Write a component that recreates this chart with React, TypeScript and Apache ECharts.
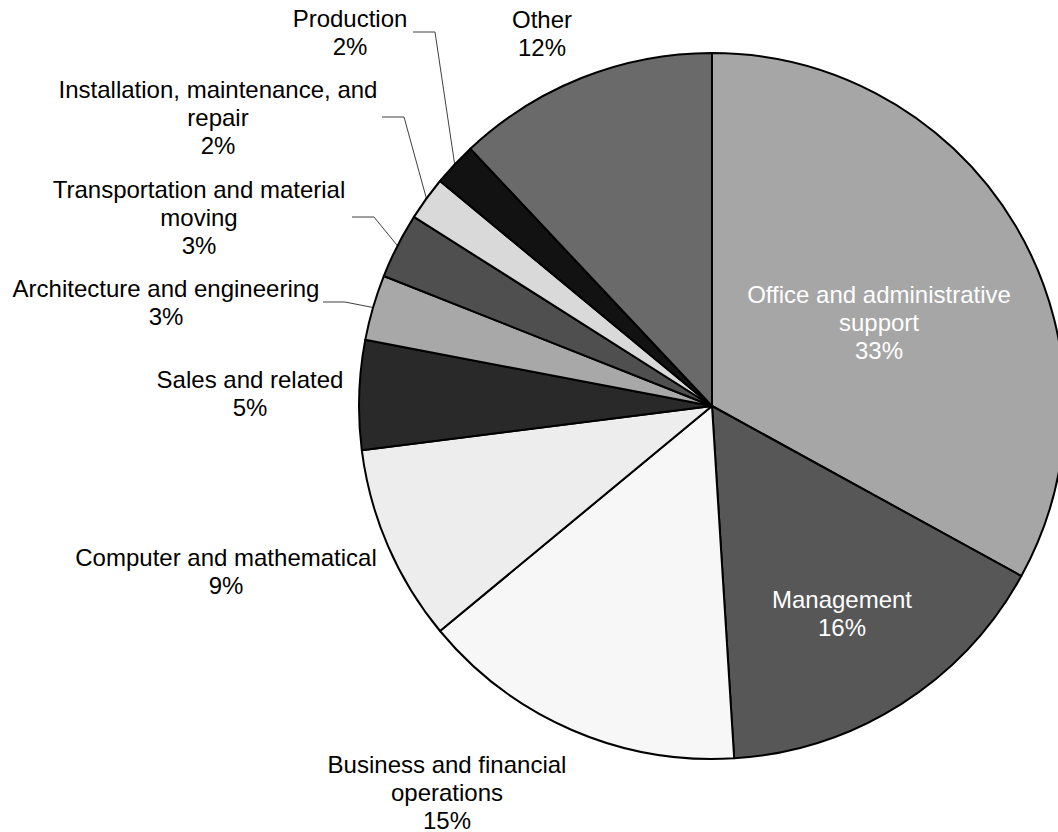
import React, { useEffect, useRef } from "react";
import * as echarts from "echarts";

const categories = [
  "Office and administrative support",
  "Management",
  "Business and financial operations",
  "Computer and mathematical",
  "Sales and related",
  "Architecture and engineering",
  "Transportation and material moving",
  "Installation, maintenance, and repair",
  "Production",
  "Other",
];
const shares = [33, 16, 15, 9, 5, 3, 3, 2, 2, 12];
const wrappedNames = [
  "Office and administrative\nsupport",
  "Management",
  "Business and financial\noperations",
  "Computer and mathematical",
  "Sales and related",
  "Architecture and engineering",
  "Transportation and material\nmoving",
  "Installation, maintenance, and\nrepair",
  "Production",
  "Other",
];
const sliceColors = [
  "#a6a6a6",
  "#575757",
  "#f7f7f7",
  "#ededed",
  "#292929",
  "#a8a8a8",
  "#4f4f4f",
  "#d9d9d9",
  "#121212",
  "#6a6a6a",
];

// layout (not data)
const CENTER = [712, 406];
const RADIUS = 353;
const labelAnchor: number[][] = [
  [879, 322],
  [842, 613],
  [447, 792],
  [226, 571],
  [250, 393],
  [166, 302],
  [199, 217],
  [218, 117],
  [350, 32],
  [542, 33],
];
const leaderStartX: (number | null)[] = [null, null, null, null, null, 323, 352, 382, 413, null];
const insideLabel = [true, true, false, false, false, false, false, false, false, false];

export default function App() {
  const ref = useRef<HTMLDivElement>(null);
  useEffect(() => {
    if (!ref.current) return;
    const chart = echarts.init(ref.current, null, { renderer: "svg" });
    const total = shares.reduce((a, b) => a + b, 0);
    const midPoint = (i: number) => {
      let before = 0;
      for (let k = 0; k < i; k++) before += shares[k];
      const frac = (before + shares[i] / 2) / total;
      const ang = frac * Math.PI * 2;
      return [CENTER[0] + RADIUS * Math.sin(ang), CENTER[1] - RADIUS * Math.cos(ang)];
    };
    chart.setOption({
      animation: false,
      backgroundColor: "#ffffff",
      series: [
        {
          type: "pie",
          center: CENTER,
          radius: RADIUS,
          startAngle: 90,
          clockwise: true,
          avoidLabelOverlap: false,
          itemStyle: { borderColor: "#000000", borderWidth: 2 },
          emphasis: { disabled: true },
          label: {
            show: true,
            position: "outside",
            fontFamily: "Liberation Sans, Arial, sans-serif",
            fontSize: 24,
            lineHeight: 28,
            color: "#000000",
            align: "center",
          },
          labelLine: { show: true, lineStyle: { color: "#404040", width: 1 } },
          labelLayout: (params: any) => {
            const i = params.dataIndex;
            const [x, y] = labelAnchor[i];
            const res: any = { x, y, align: "center", verticalAlign: "middle" };
            const sx = leaderStartX[i];
            if (sx != null) {
              const mp = midPoint(i);
              res.labelLinePoints = [mp, [sx + 22, y], [sx, y]];
            }
            return res;
          },
          data: categories.map((name, i) => ({
            name,
            value: shares[i],
            itemStyle: { color: sliceColors[i] },
            label: {
              formatter: () => `${wrappedNames[i]}\n${shares[i]}%`,
              color: insideLabel[i] ? "#ffffff" : "#000000",
            },
            labelLine: { show: leaderStartX[i] != null },
          })),
        },
      ],
    });
    return () => chart.dispose();
  }, []);
  return (
    <div
      ref={ref}
      style={{ position: "fixed", left: 0, top: 0, width: 1058, height: 832, background: "#fff" }}
    />
  );
}
